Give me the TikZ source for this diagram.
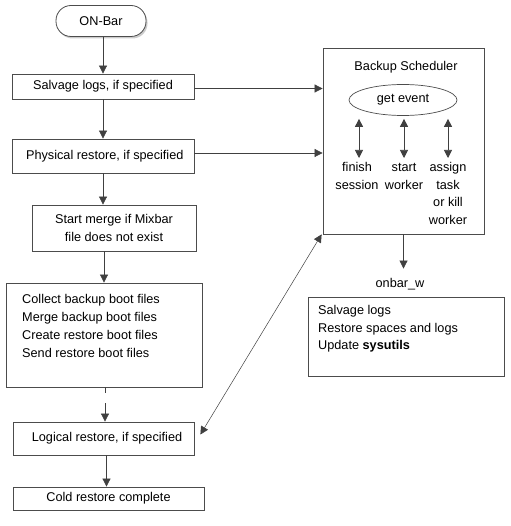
\documentclass[tikz,border=0pt]{standalone}
\usepackage{fontspec}
\setmainfont{Liberation Sans}
\usetikzlibrary{arrows.meta,shapes.geometric,shadows}

\tikzset{
  box/.style={draw=black!70, line width=0.8pt, inner sep=0pt},
  arr/.style={draw=black!75, line width=0.7pt, -{Triangle[length=8pt,width=8pt]}},
  darr/.style={draw=black!75, line width=0.7pt, {Triangle[length=8pt,width=8pt]}-{Triangle[length=8pt,width=8pt]}},
  lbl/.style={inner xsep=0pt, inner ysep=4pt, align=center, anchor=north}
}

\begin{document}
\begin{tikzpicture}[x=1pt, y=-1pt, font=\fontsize{12.7}{17.7}\selectfont]
\useasboundingbox (0,0) rectangle (510,526);

\node[box, rounded corners=15pt, minimum width=90pt, minimum height=31pt, fill=white,
      drop shadow={shadow xshift=1.5pt, shadow yshift=-2pt, fill=black!20, opacity=1}] (onbar) at (101,21) {ON-Bar};
\node[box, minimum width=182pt, minimum height=25pt] (salvage) at (103,86.5) {Salvage logs, if specified};
\node[box, minimum width=182pt, minimum height=34pt] (physical) at (103,156) {~Physical restore, if specified};
\node[box, minimum width=164pt, minimum height=46pt, align=center] (merge) at (114,228) {Start merge if Mixbar\\file does not exist};
\node[box, minimum width=196pt, minimum height=104pt] (collect) at (104,335) {};
\node[inner sep=0pt, anchor=north west, align=left] (steps) at (22,294.5) {Collect backup boot files\\Merge backup boot files\\Create restore boot files\\Send restore boot files};
\node[box, minimum width=181pt, minimum height=33pt] (logical) at (103.5,438.5) {~~Logical restore, if specified};
\node[box, minimum width=191pt, minimum height=23pt] (cold) at (108.5,498.5) {Cold restore complete};

\node[box, minimum width=161pt, minimum height=186pt] (sched) at (403.5,141) {};
\node[inner sep=0pt] (title) at (406,67) {Backup Scheduler};
\node[ellipse, draw=black!70, line width=0.7pt, minimum width=108pt, minimum height=31pt, inner sep=0pt] (event) at (403,100) {get event};
\node[lbl] (finish) at (357,158) {finish\\session};
\node[lbl] (start) at (404,158) {\vphantom{f}start\\worker};
\node[lbl] (assign) at (448,158) {\vphantom{f}assign\\task\\or kill\\worker};

\node[inner ysep=9pt, inner xsep=0pt, anchor=base] (ow) at (400,287) {onbar\_w};
\node[box, minimum width=196pt, minimum height=79pt] (worker) at (406,336.5) {};
\node[inner sep=0pt, anchor=north west, align=left] (tasks) at (318,305) {Salvage logs\\Restore spaces and logs\\Update \textbf{sysutils}};

\draw[arr] (salvage |- onbar.south) -- (salvage.north);
\draw[arr] (salvage.south) -- (physical.north);
\draw[arr] (physical.south) -- (physical.south |- merge.north);
\draw[arr] (collect |- merge.south) -- (collect.north);
\draw[arr, dash pattern=on 6pt off 10pt on 40pt] ([xshift=1pt]collect.south) -- ([xshift=1pt]collect.south |- logical.north);
\draw[arr] ([xshift=3pt]logical.south) -- ([xshift=3pt]logical.south |- cold.north);

\draw[arr] ([yshift=-2pt]salvage.east) -- ([yshift=-2pt]salvage.east -| sched.west);
\draw[arr] ([yshift=3pt]physical.east) -- ([yshift=3pt]physical.east -| sched.west);
\draw[darr, line width=0.5pt] ([xshift=6pt, yshift=4pt]logical.east) -- ([xshift=-1pt]sched.south west);

\draw[darr] ([xshift=2pt, yshift=-3pt]finish.north |- event.south) -- ([xshift=2pt]finish.north);
\draw[darr] ([yshift=-3pt]start.north |- event.south) -- (start.north);
\draw[darr] ([yshift=-3pt]assign.north |- event.south) -- (assign.north);

\draw[arr] (sched.south) -- (sched.south |- ow.north);
\end{tikzpicture}
\end{document}
